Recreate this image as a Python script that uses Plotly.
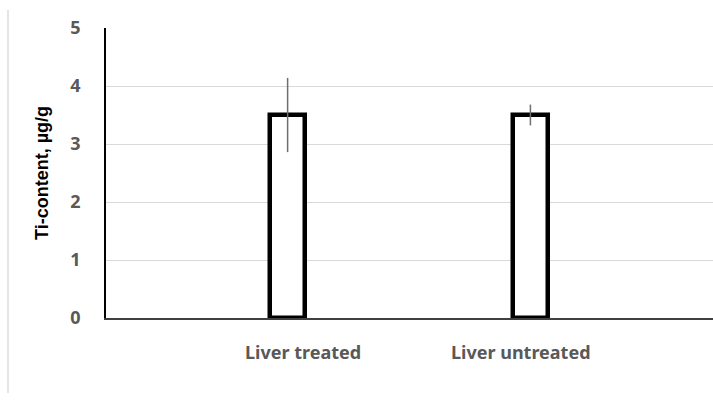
import plotly.graph_objects as go

# Titanium content in liver samples
categories = ["Liver treated", "Liver untreated"]
ti_content = [3.50, 3.50]
ti_error = [0.64, 0.18]

# horizontal nudges (px) for the category captions under the axis
label_shift = [15, -9]

label_font = dict(size=18, color="#595959", family="Noto Sans, Arial, sans-serif", weight="bold")

fig = go.Figure()
fig.add_trace(go.Bar(
    x=categories,
    y=ti_content,
    width=0.142,
    marker=dict(color="white", line=dict(color="black", width=4.5)),
    error_y=dict(type="data", array=ti_error, visible=True,
                 color="#6f6f6f", thickness=1.5, width=0),
    showlegend=False,
))

annotations = [
    dict(x=cat, y=0, xref="x", yref="y", text=cat, showarrow=False,
         xanchor="center", yanchor="top", yshift=-20, xshift=shift,
         font=label_font)
    for cat, shift in zip(categories, label_shift)
]

fig.update_layout(
    width=713, height=403,
    margin=dict(l=106, r=0, t=28, b=85),
    plot_bgcolor="white", paper_bgcolor="white",
    font=dict(family="Noto Sans, Arial, sans-serif"),
    bargap=0,
    annotations=annotations,
    shapes=[
        # outer chart frame edge on the left
        dict(type="line", xref="x domain", yref="y domain",
             x0=-98 / 607, x1=-98 / 607, y0=-75 / 290, y1=308 / 290,
             line=dict(color="#dcdcdc", width=1.5)),
    ],
)

fig.update_xaxes(
    range=[-0.748, 1.752],
    showgrid=False,
    showline=True, linecolor="#404040", linewidth=2,
    ticks="",
    showticklabels=False,
)

fig.update_yaxes(
    range=[0, 5],
    dtick=1,
    showgrid=True, gridcolor="#d9d9d9", gridwidth=1,
    zeroline=False,
    showline=True, linecolor="black", linewidth=1.5,
    ticks="",
    tickfont=label_font,
    ticklabelstandoff=20,
    title=dict(text="Ti-content, µg/g",
               font=dict(size=18, color="black", family="Liberation Sans, Arial, sans-serif", weight="bold"),
               standoff=17),
)

fig.write_html("out.html")
